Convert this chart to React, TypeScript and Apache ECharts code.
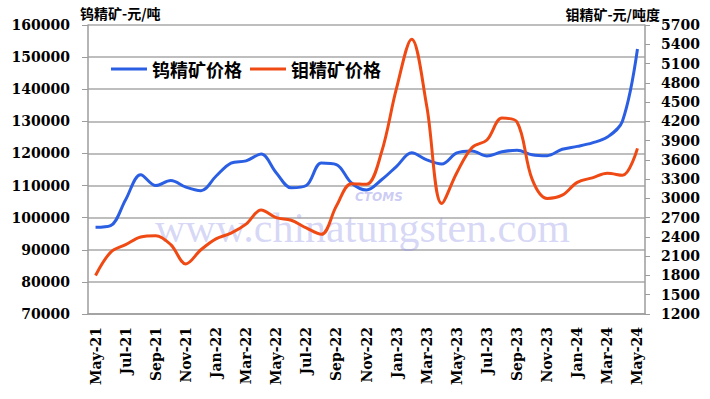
import React, { useEffect, useRef } from "react";
import * as echarts from "echarts";

const months = [
  "May-21", "Jun-21", "Jul-21", "Aug-21", "Sep-21", "Oct-21", "Nov-21", "Dec-21",
  "Jan-22", "Feb-22", "Mar-22", "Apr-22", "May-22", "Jun-22", "Jul-22", "Aug-22",
  "Sep-22", "Oct-22", "Nov-22", "Dec-22", "Jan-23", "Feb-23", "Mar-23", "Apr-23",
  "May-23", "Jun-23", "Jul-23", "Aug-23", "Sep-23", "Oct-23", "Nov-23", "Dec-23",
  "Jan-24", "Feb-24", "Mar-24", "Apr-24", "May-24",
];

const tungstenPrice = [
  97000, 97500, 105600, 113400, 110000, 111600, 109500, 108400,
  112900, 117000, 117700, 119800, 114000, 109300, 110000, 117000,
  116500, 110800, 108600, 111800, 116000, 120200, 118000, 116700,
  120200, 120800, 119200, 120500, 121000, 119600, 119300, 121300,
  122200, 123300, 125100, 130000, 152500,
];

const molyPrice = [
  1800, 2160, 2280, 2400, 2420, 2280, 1980, 2200,
  2370, 2460, 2600, 2820, 2700, 2660, 2540, 2440,
  2880, 3230, 3220, 3720, 4720, 5480, 4440, 2920,
  3400, 3790, 3910, 4250, 4190, 3300, 3000, 3050,
  3250, 3320, 3390, 3360, 3780,
];

const seriesNames = ["钨精矿价格", "钼精矿价格"];
const seriesColors = ["#2b5fe3", "#f04a14"];
const leftAxisTitle = "钨精矿-元/吨";
const rightAxisTitle = "钼精矿-元/吨度";
const watermark = "www.chinatungsten.com";

export default function App() {
  const ref = useRef<HTMLDivElement>(null);

  useEffect(() => {
    if (!ref.current) return;
    const chart = echarts.init(ref.current, undefined, { renderer: "svg" });
    const axisGray = "#9c9c9c";
    const serif = "DejaVu Serif";
    const plain = (v: number) => String(v);
    const option = {
      animation: false,
      backgroundColor: "#ffffff",
      grid: { left: 88, right: 65, top: 25, bottom: 85 },
      graphic: [
        {
          type: "text",
          x: 80,
          y: 13,
          z: 10,
          style: {
            text: leftAxisTitle,
            font: 'bold 14px "Noto Sans CJK SC"',
            fill: "#000",
            verticalAlign: "middle",
            align: "left",
          },
        },
        {
          type: "text",
          x: 660,
          y: 14,
          z: 10,
          style: {
            text: rightAxisTitle,
            font: 'bold 14px "Noto Sans CJK SC"',
            fill: "#000",
            verticalAlign: "middle",
            align: "right",
          },
        },
        {
          type: "text",
          x: 155,
          y: 228,
          z: 1,
          style: {
            text: watermark,
            font: '42px "Liberation Serif"',
            fill: "rgba(140,140,230,0.35)",
            verticalAlign: "middle",
            align: "left",
          },
        },
        {
          type: "text",
          x: 355,
          y: 197,
          z: 1,
          style: {
            text: "CTOMS",
            font: 'italic bold 12px "DejaVu Sans"',
            fill: "rgba(140,140,230,0.45)",
            verticalAlign: "middle",
            align: "left",
          },
        },
      ],
      legend: {
        left: 106,
        top: 55,
        itemWidth: 36,
        itemHeight: 3,
        itemGap: 8,
        icon: "rect",
        textStyle: {
          fontFamily: "Noto Sans CJK SC",
          fontSize: 18,
          fontWeight: "bold",
          color: "#000",
        },
        data: seriesNames.map((n) => ({ name: n, icon: "rect" })),
      },
      xAxis: {
        type: "category",
        data: months,
        boundaryGap: true,
        axisLine: { lineStyle: { color: axisGray, width: 1.5 } },
        axisTick: { interval: 1, length: 5, lineStyle: { color: axisGray } },
        axisLabel: {
          interval: 1,
          rotate: 90,
          margin: 13,
          fontFamily: serif,
          fontWeight: "bold",
          fontSize: 14,
          color: "#000",
        },
        splitLine: { show: false },
      },
      yAxis: [
        {
          type: "value",
          min: 70000,
          max: 160000,
          interval: 10000,
          position: "left",
          axisLine: { show: true, lineStyle: { color: axisGray, width: 1.5 } },
          axisTick: { show: true, length: 6, lineStyle: { color: axisGray } },
          axisLabel: {
            margin: 18,
            formatter: plain,
            fontFamily: serif,
            fontWeight: "bold",
            fontSize: 14,
            color: "#000",
          },
          splitLine: { show: true, lineStyle: { color: "#a8a8a8", width: 1.5 } },
        },
        {
          type: "value",
          min: 1200,
          max: 5700,
          interval: 300,
          position: "right",
          axisLine: { show: true, lineStyle: { color: axisGray, width: 1.5 } },
          axisTick: { show: true, length: 5, lineStyle: { color: axisGray } },
          axisLabel: {
            margin: 16,
            formatter: plain,
            fontFamily: serif,
            fontWeight: "bold",
            fontSize: 14,
            color: "#000",
          },
          splitLine: { show: false },
        },
      ],
      series: [
        {
          name: seriesNames[0],
          type: "line",
          yAxisIndex: 0,
          data: tungstenPrice,
          smooth: 0.35,
          symbol: "none",
          z: 3,
          lineStyle: { color: seriesColors[0], width: 3 },
          itemStyle: { color: seriesColors[0] },
        },
        {
          name: seriesNames[1],
          type: "line",
          yAxisIndex: 1,
          data: molyPrice,
          smooth: 0.35,
          symbol: "none",
          z: 4,
          lineStyle: { color: seriesColors[1], width: 3 },
          itemStyle: { color: seriesColors[1] },
        },
      ],
    };
    chart.setOption(option);
    return () => chart.dispose();
  }, []);

  return (
    <div
      ref={ref}
      style={{ position: "absolute", left: 0, top: 0, width: 710, height: 399 }}
    />
  );
}
